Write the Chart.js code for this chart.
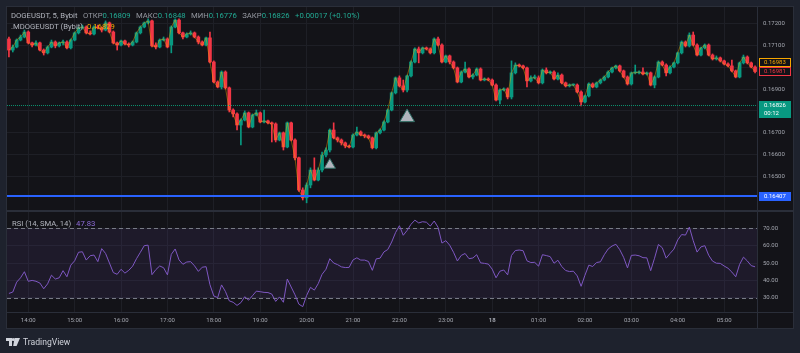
<!DOCTYPE html>
<html>
<head>
<meta charset="utf-8">
<title>DOGEUSDT, 5, Bybit</title>
<script src="https://cdn.jsdelivr.net/npm/chart.js@4.4.1/dist/chart.umd.min.js"></script>
<style>
    html, body { margin: 0; padding: 0; }
    body { width: 800px; height: 353px; background: #1e222d; position: relative; overflow: hidden; font-family: Roboto, 'Noto Sans', sans-serif; }
    #frame { position: absolute; left: 6px; top: 6px; width: 788px; height: 323px; background: #2a2e39; }
    #priceCanvas { position: absolute; left: 1px; top: 1px; background: #131318; }
    #rsiCanvas { position: absolute; left: 1px; top: 206px; background: #131318; }
    .legend { position: absolute; font-size: 7.7px; line-height: 10px; color: #b2b5be; white-space: nowrap; }
    .legend .item { margin-left: 5.5px; color: #9598a1; }
    .legend .up { color: #22ab94; }
    .legend .mark { color: #f7a600; margin-left: 4px; }
    .legend .rsi { color: #8e6bd8; margin-left: 5px; }
    #brand { position: absolute; left: 6px; top: 336px; height: 12px; display: flex; align-items: center; color: #d1d4dc; font-size: 8.6px; }
    #brand svg { margin-right: 3px; }
</style>
</head>
<body>
<div id="frame">
    <canvas id="priceCanvas" width="786" height="203"></canvas>
    <canvas id="rsiCanvas" width="786" height="116"></canvas>
</div>
<div class="legend" id="legendMain" style="left:11px; top:11px;"></div>
<div class="legend" id="legendMark" style="left:11px; top:22px;"></div>
<div class="legend" id="legendRsi" style="left:12px; top:219px;"></div>
<div id="brand">
    <svg width="14" height="8" viewBox="0 0 14 8"><path d="M0 0h6v8H3V3H0z M8.5 0h5.5l-3.4 8H7.2z" fill="#d1d4dc"/><circle cx="7.2" cy="1.5" r="1.5" fill="#d1d4dc"/></svg>
    <span>TradingView</span>
</div>

<script>
// Цены в единицах 0.00001 USDT, свечи по 5 минут (13:35 ... 05:40)
const opens = [
    17131,17080,17094,17126,17140,17163,17113,17103,17113,17080,
    17067,17094,17117,17099,17113,17117,17090,17126,17159,17182,
    17186,17159,17154,17186,17182,17172,17205,17163,17113,17103,
    17122,17108,17103,17117,17159,17186,17205,17214,17103,17094,
    17126,17131,17103,17186,17218,17159,17140,17154,17159,17140,
    17117,17103,17136,17025,16933,16910,16979,16906,16804,16786,
    16735,16758,16791,16726,16781,16791,16749,16754,16745,16740,
    16666,16699,16634,16745,16666,16584,16436,16400,16459,16528,
    16482,16528,16597,16620,16712,16676,16666,16653,16639,16634,
    16689,16703,16689,16685,16676,16630,16699,16712,16749,16804,
    16883,16952,16915,16896,16961,17025,17085,17067,17090,17085,
    17067,17131,17103,17025,17053,17025,16998,16933,16979,16993,
    16956,16965,16993,16942,16947,16942,16919,16850,16896,16901,
    16864,16975,17011,17007,16998,16938,16952,16952,16929,16988,
    16975,16979,16947,16965,16929,16915,16919,16919,16887,16841,
    16869,16924,16910,16929,16942,16956,16979,16998,17007,16984,
    16956,16924,16975,16975,16979,16970,16975,16919,16956,17025,
    17011,16975,17002,17021,17067,17117,17099,17149,17103,17057,
    17090,17103,17057,17039,17044,17030,17016,17007,16984,16956,
    17021,17048,17021,17002
];
const highs = [
    17140,17103,17131,17149,17172,17168,17117,17122,17117,17085,
    17099,17126,17122,17117,17126,17122,17131,17163,17186,17195,
    17191,17168,17191,17195,17186,17214,17209,17168,17117,17126,
    17126,17113,17122,17163,17191,17209,17223,17218,17113,17131,
    17140,17136,17191,17223,17223,17163,17159,17168,17163,17145,
    17122,17140,17163,17030,16938,16984,16984,16910,16809,16791,
    16763,16800,16795,16786,16804,16795,16804,16758,16749,16745,
    16703,16703,16749,16749,16671,16588,16446,16469,16538,16584,
    16538,16611,16630,16717,16745,16680,16671,16657,16643,16694,
    16726,16708,16694,16689,16680,16703,16717,16754,16809,16887,
    16956,16961,16942,16965,17030,17090,17094,17094,17094,17090,
    17136,17140,17108,17057,17057,17030,17002,16984,17025,16998,
    16970,16998,16998,16952,16952,16947,16924,16901,16906,16906,
    17030,17021,17016,17011,17002,16961,16965,16961,16993,16998,
    16984,16984,16975,16970,16933,16924,16924,16924,16892,16873,
    16929,16929,16933,16947,16961,16984,17002,17011,17011,16988,
    16961,16979,17011,16984,16998,16979,16979,16961,17030,17030,
    17016,17007,17025,17071,17122,17122,17159,17163,17108,17094,
    17108,17108,17062,17053,17048,17034,17021,17034,16988,17025,
    17057,17053,17025,17007
];
const lows = [
    17048,17071,17090,17122,17136,17108,17094,17099,17076,17057,
    17062,17090,17090,17094,17103,17085,17085,17122,17154,17177,
    17154,17149,17149,17177,17163,17168,17159,17108,17080,17099,
    17103,17094,17099,17113,17154,17182,17200,17094,17085,17090,
    17122,17090,17067,17182,17154,17131,17136,17149,17136,17108,
    17099,17099,17021,16929,16906,16901,16901,16795,16772,16712,
    16643,16754,16722,16722,16777,16745,16745,16740,16657,16657,
    16662,16620,16630,16662,16574,16430,16390,16377,16446,16478,
    16478,16519,16588,16611,16671,16657,16643,16630,16630,16630,
    16685,16685,16676,16671,16625,16625,16694,16708,16745,16800,
    16878,16910,16887,16887,16956,17021,17021,17062,17080,17062,
    17062,17099,17021,17021,17016,16993,16929,16929,16975,16952,
    16947,16961,16938,16938,16938,16915,16846,16832,16892,16855,
    16855,16970,17002,16993,16910,16933,16947,16924,16924,16970,
    16970,16942,16942,16924,16910,16910,16915,16883,16823,16837,
    16864,16906,16906,16924,16938,16952,16975,16993,16979,16952,
    16919,16919,16970,16970,16965,16965,16915,16906,16952,17007,
    16961,16970,16998,17016,17062,17094,17094,17099,17053,17053,
    17085,17053,17034,17034,17025,17011,17002,16979,16952,16952,
    17016,17016,16998,16975
];
const closes = [
    17080,17094,17126,17140,17163,17113,17103,17113,17080,17067,
    17094,17117,17099,17113,17117,17090,17126,17159,17182,17186,
    17159,17154,17186,17182,17172,17205,17163,17113,17103,17122,
    17108,17103,17117,17159,17186,17205,17214,17099,17094,17126,
    17131,17094,17186,17218,17159,17140,17154,17159,17140,17117,
    17103,17136,17025,16933,16910,16979,16906,16804,16786,16735,
    16758,16791,16726,16781,16791,16749,16754,16745,16740,16666,
    16699,16634,16745,16666,16584,16436,16400,16459,16528,16482,
    16528,16597,16620,16712,16676,16666,16653,16639,16634,16689,
    16703,16689,16685,16676,16630,16699,16712,16749,16804,16883,
    16952,16915,16896,16961,17025,17085,17067,17090,17085,17067,
    17131,17103,17025,17053,17025,16998,16933,16979,16993,16956,
    16965,16993,16942,16947,16942,16919,16850,16896,16901,16864,
    16975,17011,17007,16998,16938,16952,16952,16929,16988,16975,
    16979,16947,16965,16929,16915,16919,16919,16887,16841,16869,
    16924,16910,16929,16942,16956,16979,16998,17007,16984,16956,
    16924,16975,16975,16979,16970,16975,16919,16956,17025,17011,
    16975,17002,17021,17067,17117,17099,17149,17103,17057,17090,
    17103,17057,17039,17044,17030,17016,17007,16984,16956,17021,
    17048,17021,17002,16981
];

// RSI (14, SMA, 14)
const rsiValues = [
    32.5,33.3,39,41.5,45,39.5,40,39.5,38.5,35.2,
    38,43,40.8,41.5,45.6,42.1,48.8,51.3,56.2,56.5,
    51.7,54.2,54.6,50.8,58.3,55.5,50,44.5,43.5,46.4,
    44.2,45.8,48.2,52.5,56.2,60,60.3,43.3,46.2,48.3,
    47.3,43.2,55,58.1,51.8,49.3,50.6,50.8,48.4,45.2,
    47.6,47.9,37.5,31,30.1,37.4,33.6,28.2,27.4,25.6,
    27.2,30.6,28.6,31.2,33.8,33.5,33.1,33,32.1,27.9,
    30.5,27.4,40.8,36.2,31.7,26.3,24.9,31.3,36,34.4,
    38.1,43.5,46.4,52.5,50,49.1,47.8,47.4,47.5,51.8,
    53,51.7,51.7,50.9,45.8,52.4,52.8,56.4,57.8,62.1,
    67.5,71.5,66,68.8,72.3,74.7,73.1,73.8,73.5,71.3,
    74.2,70.6,61.5,62.9,60.3,56.2,51.2,54.4,55.5,52.5,
    52.9,54.8,50.1,49.8,49.4,46.5,41.5,45.3,46,43.2,
    54.4,57.2,57.5,57.1,51.3,50.3,50.4,48.2,54.8,54.3,
    53.7,49.9,51.6,48,45.7,45.1,45.3,42.6,36.6,43,
    48.8,48,50.3,50.7,54.8,58.1,59.8,60.8,57.7,53.3,
    47.2,54.4,54.6,54.2,53.1,53,45.6,52.8,60.7,58.8,
    52.8,55.5,58,63.3,66.4,66.1,70.7,62.9,56.3,59.3,
    60,54.5,51.1,49.9,49.8,48.3,47,44.8,42.1,49.2,
    53.4,51.2,48.5,47.83
];

// Подписи времени (первый час - 6-я свеча, далее каждые 12 свечей)
const hourLabels = ['14:00','15:00','16:00','17:00','18:00','19:00','20:00','21:00','22:00','23:00','18','01:00','02:00','03:00','04:00','05:00'];
const firstHourIndex = 5;
const candlesPerHour = 12;

const priceTicks = [16500, 16600, 16700, 16800, 16900, 17000, 17100, 17200];
const rsiTicks = [30, 40, 50, 60, 70];
const rsiUpper = 70;
const rsiLower = 30;

// Метки-алерты (треугольники)
const alertIndex = [83, 103];
const alertPrice = [16551, 16770];

// Значения на шкале цены
const lastMark = 16983;
const lastClose = 16981;
const currentPrice = 16826;
const levelPrice = 16407;
const countdown = '00:12';

// Легенда
const symbolTitle = 'DOGEUSDT, 5, Bybit';
const ohlcNames = ['ОТКР', 'МАКС', 'МИН', 'ЗАКР'];
const ohlcValues = ['0.16809', '0.16848', '0.16776', '0.16826'];
const changeText = '+0.00017 (+0.10%)';
const markTitle = '.MDOGEUSDT (Bybit)';
const markValue = '0.16829';
const rsiTitle = 'RSI (14, SMA, 14)';
const rsiLast = '47.83';

const UP = '#089981';
const DOWN = '#f23645';
const BLUE = '#2962ff';
const PURPLE = '#7e57c2';
const GRID = '#1e1f26';
const LINE = '#2a2e39';
const AXIS_TEXT = '#a3a6af';
const BG = '#131318';

const toPrice = v => (v / 1e5).toFixed(5);
const candleColors = closes.map((c, i) => (c >= opens[i] ? UP : DOWN));
const hourIndex = hourLabels.map((_, k) => firstHourIndex + k * candlesPerHour);

document.getElementById('legendMain').innerHTML =
    '<span>' + symbolTitle + '</span>' +
    ohlcNames.map((n, k) => '<span class="item">' + n + '<span class="up">' + ohlcValues[k] + '</span></span>').join('') +
    '<span class="item up">' + changeText + '</span>';
document.getElementById('legendMark').innerHTML = '<span>' + markTitle + '</span><span class="mark">' + markValue + '</span>';
document.getElementById('legendRsi').innerHTML = '<span>' + rsiTitle + '</span><span class="rsi">' + rsiLast + '</span>';

function setHourTicks(scale) {
    scale.ticks = hourIndex.map(v => ({ value: v }));
}

function noPadding(scale) {
    scale.paddingTop = 0;
    scale.paddingBottom = 0;
    scale.paddingLeft = 0;
    scale.paddingRight = 0;
}

// Линии-разделители шкал
function drawSeparators(chart, withBottom) {
    const { ctx, chartArea: a } = chart;
    ctx.save();
    ctx.strokeStyle = LINE;
    ctx.lineWidth = 1;
    ctx.beginPath();
    ctx.moveTo(a.right + 0.5, 0);
    ctx.lineTo(a.right + 0.5, chart.height);
    if (withBottom) {
        ctx.moveTo(0, a.bottom + 0.5);
        ctx.lineTo(chart.width, a.bottom + 0.5);
    }
    ctx.stroke();
    ctx.restore();
}

function priceBox(ctx, x, top, lines, fill, stroke, color) {
    const h = lines.length * 8 + 1;
    ctx.fillStyle = fill;
    ctx.fillRect(x, top, 32, h);
    if (stroke) {
        ctx.strokeStyle = stroke;
        ctx.lineWidth = 1;
        ctx.strokeRect(x + 0.5, top + 0.5, 31, h - 1);
    }
    ctx.fillStyle = color;
    ctx.font = '6px Roboto';
    ctx.textBaseline = 'middle';
    ctx.textAlign = 'left';
    lines.forEach((t, k) => ctx.fillText(t, x + 5, top + 4.7 + k * 8));
}

const mainOverlay = {
    id: 'mainOverlay',
    afterDatasetsDraw(chart) {
        const { ctx, chartArea: a, scales: { y } } = chart;
        ctx.save();
        // линия текущей цены
        const yc = Math.round(y.getPixelForValue(currentPrice)) + 0.5;
        ctx.strokeStyle = '#0b8f6c';
        ctx.lineWidth = 1;
        ctx.setLineDash([1, 1]);
        ctx.beginPath();
        ctx.moveTo(a.left, yc);
        ctx.lineTo(a.right, yc);
        ctx.stroke();
        // горизонтальный уровень
        ctx.setLineDash([]);
        ctx.strokeStyle = BLUE;
        ctx.lineWidth = 2;
        const yl = Math.round(y.getPixelForValue(levelPrice));
        ctx.beginPath();
        ctx.moveTo(a.left, yl);
        ctx.lineTo(a.right, yl);
        ctx.stroke();
        ctx.restore();
    },
    afterDraw(chart) {
        const { ctx, chartArea: a, scales: { y } } = chart;
        drawSeparators(chart, false);
        const x = a.right + 2;
        ctx.save();
        const redTop = Math.round(y.getPixelForValue(lastClose) - 4.5);
        priceBox(ctx, x, redTop, [toPrice(lastClose)], BG, DOWN, DOWN);
        priceBox(ctx, x, redTop - 9, [toPrice(lastMark)], BG, '#f7a600', '#f7a600');
        priceBox(ctx, x, Math.round(y.getPixelForValue(currentPrice) - 4.5), [toPrice(currentPrice), countdown], UP, null, '#ffffff');
        priceBox(ctx, x, Math.round(y.getPixelForValue(levelPrice) - 4.5), [toPrice(levelPrice)], BLUE, null, '#ffffff');
        ctx.restore();
    }
};

const rsiOverlay = {
    id: 'rsiOverlay',
    beforeDatasetsDraw(chart) {
        const { ctx, chartArea: a, scales: { y } } = chart;
        const yTop = Math.round(y.getPixelForValue(rsiUpper)) + 0.5;
        const yBottom = Math.round(y.getPixelForValue(rsiLower)) + 0.5;
        ctx.save();
        ctx.fillStyle = 'rgba(126, 87, 194, 0.1)';
        ctx.fillRect(a.left, yTop, a.right - a.left, yBottom - yTop);
        ctx.strokeStyle = '#787b86';
        ctx.lineWidth = 1;
        ctx.setLineDash([4, 3]);
        ctx.beginPath();
        ctx.moveTo(a.left, yTop);
        ctx.lineTo(a.right, yTop);
        ctx.moveTo(a.left, yBottom);
        ctx.lineTo(a.right, yBottom);
        ctx.stroke();
        ctx.restore();
    },
    afterDraw(chart) {
        drawSeparators(chart, true);
    }
};

const baseOptions = {
    responsive: false,
    animation: false,
    events: [],
    layout: { padding: 0, autoPadding: false },
    plugins: { legend: { display: false }, tooltip: { enabled: false } }
};

// График свечей
new Chart(document.getElementById('priceCanvas'), {
    type: 'bar',
    data: {
        datasets: [
            {
                label: 'wick',
                data: opens.map((_, i) => ({ x: i, y: [lows[i], highs[i]] })),
                backgroundColor: candleColors,
                barThickness: 1,
                grouped: false,
                order: 4
            },
            {
                label: 'body',
                data: opens.map((o, i) => ({ x: i, y: [o, closes[i]] })),
                backgroundColor: candleColors,
                barThickness: 3,
                minBarLength: 1,
                grouped: false,
                order: 3
            },
            {
                type: 'line',
                label: markTitle,
                data: closes.map((c, i) => ({ x: i, y: c })),
                borderColor: 'rgba(247, 166, 0, 0.45)',
                borderWidth: 1,
                pointRadius: 0,
                order: 2
            },
            {
                type: 'scatter',
                label: 'alerts',
                data: alertIndex.map((x, k) => ({ x: x, y: alertPrice[k] })),
                pointStyle: 'triangle',
                pointRadius: [6.5, 8.5],
                backgroundColor: '#b2b5be',
                borderColor: '#2c6b62',
                borderWidth: 1,
                order: 1
            }
        ]
    },
    options: {
        ...baseOptions,
        scales: {
            x: {
                type: 'linear', min: -0.5, max: 193.5, bounds: 'data', offset: false,
                afterBuildTicks: setHourTicks,
                afterFit: s => { s.height = 0; noPadding(s); },
                ticks: { display: false },
                grid: { color: GRID, drawTicks: false, offset: false },
                border: { display: false }
            },
            y: {
                position: 'right', min: 16344, max: 17278, bounds: 'data',
                afterBuildTicks: s => { s.ticks = priceTicks.map(v => ({ value: v })); },
                afterFit: s => { s.width = 36; noPadding(s); },
                ticks: { color: AXIS_TEXT, font: { size: 6, family: 'Roboto' }, padding: 6, callback: v => toPrice(v) },
                grid: { color: GRID, drawTicks: false },
                border: { display: false }
            }
        }
    },
    plugins: [mainOverlay]
});

// Панель RSI
new Chart(document.getElementById('rsiCanvas'), {
    type: 'line',
    data: {
        datasets: [{
            label: rsiTitle,
            data: rsiValues.map((v, i) => ({ x: i, y: v })),
            borderColor: PURPLE,
            borderWidth: 1,
            pointRadius: 0,
            tension: 0
        }]
    },
    options: {
        ...baseOptions,
        scales: {
            x: {
                type: 'linear', min: -0.5, max: 193.5, bounds: 'data', offset: false,
                afterBuildTicks: setHourTicks,
                afterFit: s => { s.height = 16; noPadding(s); },
                ticks: {
                    autoSkip: false, maxRotation: 0, color: AXIS_TEXT, padding: 5,
                    font: ctx => ({ size: 6, family: 'Roboto', weight: hourLabels[ctx.index] === '18' ? 'bold' : 'normal' }),
                    callback: (v, k) => hourLabels[k]
                },
                grid: { color: GRID, drawTicks: false },
                border: { display: false }
            },
            y: {
                position: 'right', min: 21.8, max: 79.4, bounds: 'data',
                afterBuildTicks: s => { s.ticks = rsiTicks.map(v => ({ value: v })); },
                afterFit: s => { s.width = 36; noPadding(s); },
                ticks: { color: AXIS_TEXT, font: { size: 6, family: 'Roboto' }, padding: 6, callback: v => v.toFixed(2) },
                grid: { color: GRID, drawTicks: false },
                border: { display: false }
            }
        }
    },
    plugins: [rsiOverlay]
});
</script>
</body>
</html>
